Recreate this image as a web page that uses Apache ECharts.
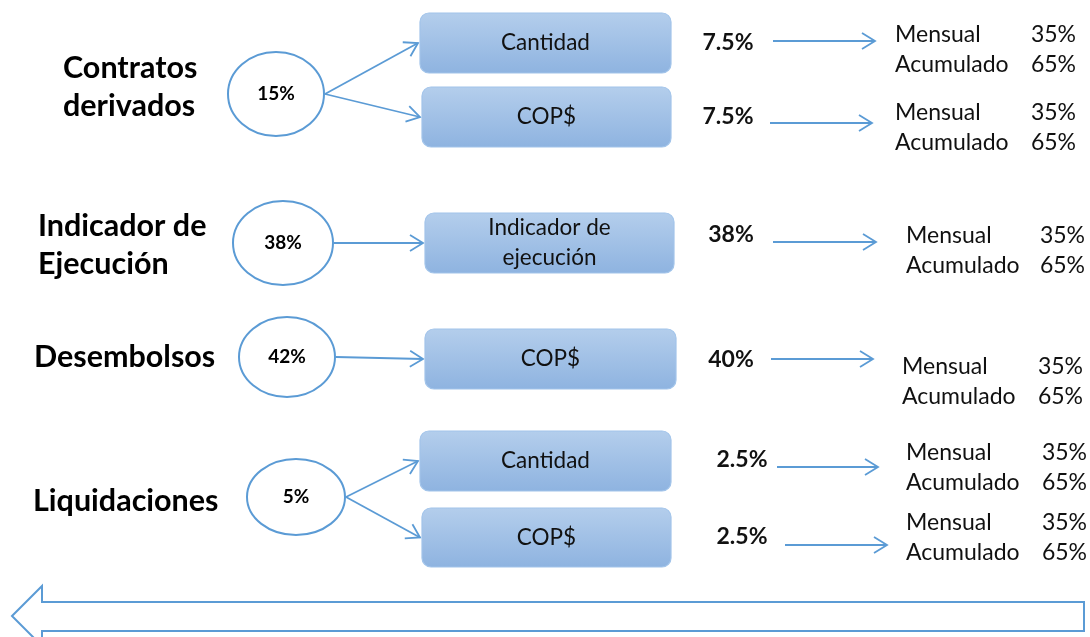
<!DOCTYPE html>
<html>
<head>
<meta charset="utf-8">
<script src="https://cdn.jsdelivr.net/npm/echarts@6/dist/echarts.min.js"></script>
<style>html,body{margin:0;padding:0;background:#fff}#main{width:1090px;height:637px}</style>
</head>
<body>
<div id="main"></div>
<script>
// data
const groups = ['Contratos\nderivados', 'Indicador de\nEjecución', 'Desembolsos', 'Liquidaciones'];
const groupShares = ['15%', '38%', '42%', '5%'];
const items = ['Cantidad', 'COP$', 'Indicador de\nejecución', 'COP$', 'Cantidad', 'COP$'];
const itemGroup = [0, 0, 1, 2, 3, 3];
const itemShares = ['7.5%', '7.5%', '38%', '40%', '2.5%', '2.5%'];
const periodLabels = ['Mensual', 'Acumulado'];
const mensual = ['35%', '35%', '35%', '35%', '35%', '35%'];
const acumulado = ['65%', '65%', '65%', '65%', '65%', '65%'];

// layout, in the units of the hidden axes (0..1090 x 0..637)
const groupLabelAt = [[63, 87], [38, 245], [34, 357], [33, 501]];
const circleAt = [[276, 94], [283, 243], [287, 357], [296, 497]];
const circleR = [[48, 42], [50, 42], [48, 40], [49, 38]];
const boxAt = [[420, 13, 671, 73], [422, 87, 671, 147], [425, 213, 674, 273], [425, 329, 676, 389], [420, 431, 671, 491], [422, 508, 671, 567]];
const shareAt = [[728, 43], [728, 117], [731, 235], [731, 360], [742, 460], [742, 537]];
const arrowAt = [[773, 875, 41], [770, 872, 123], [773, 876, 242], [771, 873, 359], [777, 878, 467], [785, 887, 545]];
const periodAt = [[895, 1076, 35], [895, 1076, 113], [906, 1085, 236], [902, 1083, 367], [906, 1087, 453], [906, 1087, 523]];
const periodGap = 30;
const bigArrow = [[12, 616], [42, 586], [42, 602], [1084, 602], [1084, 631], [42, 631], [42, 646]];

const BLUE = '#5B9BD5';
const FONT = 'Lato, "Open Sans", sans-serif';

function arrowEls(api, a, b) {
  const p = api.coord(a), q = api.coord(b);
  const ang = Math.atan2(q[1] - p[1], q[0] - p[0]);
  const L = 13, W = 8;
  const bx = q[0] - L * Math.cos(ang), by = q[1] - L * Math.sin(ang);
  const nx = -Math.sin(ang), ny = Math.cos(ang);
  return [
    { type: 'line', shape: { x1: p[0], y1: p[1], x2: q[0], y2: q[1] }, style: { stroke: BLUE, lineWidth: 1.8 } },
    { type: 'polyline', shape: { points: [[bx + nx * W, by + ny * W], q, [bx - nx * W, by - ny * W]] }, style: { stroke: BLUE, lineWidth: 1.8, fill: null } }
  ];
}

function text(p, str, font, align, extra) {
  return { type: 'text', style: Object.assign({ x: p[0], y: p[1], text: str, font: font, fill: '#111',
    textAlign: align, align: align, textVerticalAlign: 'middle', verticalAlign: 'middle' }, extra || {}) };
}

const chart = echarts.init(document.getElementById('main'));
const base = { type: 'custom', coordinateSystem: 'cartesian2d', silent: true, clip: false, animation: false };

chart.setOption({
  backgroundColor: '#fff',
  animation: false,
  grid: { left: 0, right: 0, top: 0, bottom: 0 },
  xAxis: { type: 'value', min: 0, max: 1090, show: false },
  yAxis: { type: 'value', min: 0, max: 637, inverse: true, show: false },
  series: [
    // big arrow at the bottom
    Object.assign({}, base, {
      data: [bigArrow[0]],
      renderItem: (params, api) => ({ type: 'polygon', shape: { points: bigArrow.map(p => api.coord(p)) },
        style: { fill: '#fff', stroke: BLUE, lineWidth: 2 } })
    }),
    // group names
    Object.assign({}, base, {
      data: groups.map((g, i) => groupLabelAt[i]),
      renderItem: (params, api) => {
        const i = params.dataIndex;
        return text(api.coord(groupLabelAt[i]), groups[i], 'bold 30.5px ' + FONT, 'left', { fill: '#000', lineHeight: 38 });
      }
    }),
    // circles with group shares
    Object.assign({}, base, {
      data: groupShares.map((s, i) => circleAt[i]),
      renderItem: (params, api) => {
        const i = params.dataIndex;
        const c = api.coord(circleAt[i]);
        const r = api.size(circleR[i]);
        return { type: 'group', children: [
          { type: 'ellipse', shape: { cx: c[0], cy: c[1], rx: r[0], ry: r[1] }, style: { fill: '#fff', stroke: BLUE, lineWidth: 2 } },
          text(c, groupShares[i], 'bold 19px ' + FONT, 'center', { fill: '#000' })
        ] };
      }
    }),
    // circle -> box connectors
    Object.assign({}, base, {
      data: items.map((s, i) => boxAt[i].slice(0, 2)),
      renderItem: (params, api) => {
        const i = params.dataIndex, g = itemGroup[i];
        const from = [circleAt[g][0] + circleR[g][0] + 1, circleAt[g][1]];
        const to = [boxAt[i][0] - 2, (boxAt[i][1] + boxAt[i][3]) / 2];
        return { type: 'group', children: arrowEls(api, from, to) };
      }
    }),
    // boxes
    Object.assign({}, base, {
      data: items.map((s, i) => boxAt[i].slice(0, 2)),
      renderItem: (params, api) => {
        const i = params.dataIndex, b = boxAt[i];
        const p0 = api.coord([b[0], b[1]]), p1 = api.coord([b[2], b[3]]);
        return { type: 'group', children: [
          { type: 'rect', shape: { x: p0[0], y: p0[1], width: p1[0] - p0[0], height: p1[1] - p0[1], r: 9 },
            style: { fill: new echarts.graphic.LinearGradient(0, 0, 0, 1, [
              { offset: 0, color: '#B4CEEC' }, { offset: 1, color: '#8EB3E0' }]), stroke: '#A2C4EA', lineWidth: 1.2 } },
          text([(p0[0] + p1[0]) / 2, (p0[1] + p1[1]) / 2], items[i], '22.5px ' + FONT, 'center', { lineHeight: 30 })
        ] };
      }
    }),
    // item shares
    Object.assign({}, base, {
      data: itemShares.map((s, i) => shareAt[i]),
      renderItem: (params, api) => {
        const i = params.dataIndex;
        return text(api.coord(shareAt[i]), itemShares[i], 'bold 23px ' + FONT, 'center');
      }
    }),
    // right arrows
    Object.assign({}, base, {
      data: arrowAt.map(a => [a[0], a[2]]),
      renderItem: (params, api) => {
        const a = arrowAt[params.dataIndex];
        return { type: 'group', children: arrowEls(api, [a[0], a[2]], [a[1], a[2]]) };
      }
    }),
    // mensual / acumulado
    Object.assign({}, base, {
      data: periodAt.map(a => [a[0], a[2]]),
      renderItem: (params, api) => {
        const i = params.dataIndex, a = periodAt[i];
        const f = '23px ' + FONT;
        return { type: 'group', children: [
          text(api.coord([a[0], a[2]]), periodLabels[0], f, 'left'),
          text(api.coord([a[1], a[2]]), mensual[i], f, 'right'),
          text(api.coord([a[0], a[2] + periodGap]), periodLabels[1], f, 'left'),
          text(api.coord([a[1], a[2] + periodGap]), acumulado[i], f, 'right')
        ] };
      }
    })
  ]
});
window.addEventListener('resize', () => chart.resize());
</script>
</body>
</html>
